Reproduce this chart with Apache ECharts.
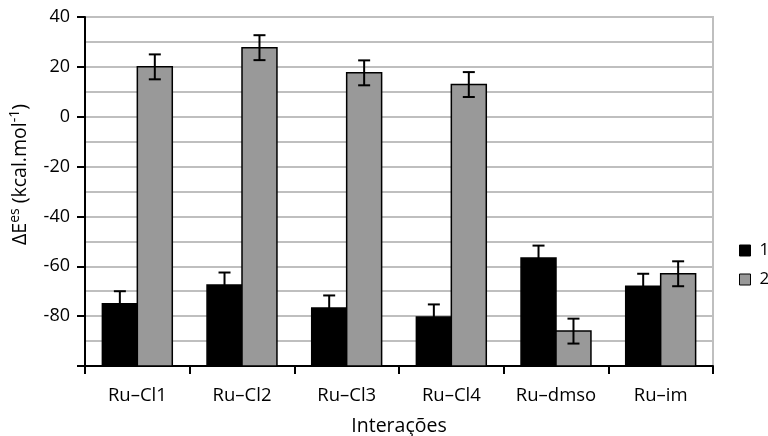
<!DOCTYPE html>
<html>
<head>
<meta charset="utf-8">
<script src="https://cdn.jsdelivr.net/npm/echarts@6/dist/echarts.min.js"></script>
<style>
  html, body { margin: 0; padding: 0; background: #fff; }
  #chart { width: 768px; height: 436px; }
</style>
</head>
<body>
<div id="chart"></div>
<script>
// Interaction categories and electrostatic energy values (kcal/mol)
const categories = ['Ru\u2013Cl1', 'Ru\u2013Cl2', 'Ru\u2013Cl3', 'Ru\u2013Cl4', 'Ru\u2013dmso', 'Ru\u2013im'];
const seriesNames = ['1', '2'];
const values1 = [-75, -67.5, -76.7, -80.3, -56.7, -68];
const values2 = [20, 27.7, 17.6, 12.9, -86, -63];
const errors1 = [5, 5, 5, 5, 5, 5];
const errors2 = [5, 5, 5, 5, 5, 5];
const yMin = -100;
const yMax = 40;

const FONT = '"Open Sans", "Noto Sans", sans-serif';
const colors = ['#000000', '#999999'];

// Bars rise from the bottom of the value axis, with symmetric error bars
function makeRender(side, fill) {
  return function (params, api) {
    const idx = api.value(0);
    const v = api.value(1);
    const err = api.value(2);
    const band = api.size([1, 0])[0];
    const w = band * 0.334;
    const top = api.coord([idx, v]);
    const base = api.coord([idx, yMin]);
    const x0 = side < 0 ? top[0] - w : top[0];
    const xc = x0 + w / 2;
    const yHi = api.coord([idx, v + err])[1];
    const yLo = api.coord([idx, v - err])[1];
    const cap = 6;
    const lineStyle = { stroke: '#000', lineWidth: 2 };
    return {
      type: 'group',
      children: [
        {
          type: 'rect',
          shape: { x: x0, y: top[1], width: w, height: base[1] - top[1] },
          style: { fill: fill, stroke: '#000', lineWidth: 1.5 }
        },
        { type: 'line', shape: { x1: xc, y1: yHi, x2: xc, y2: yLo }, style: lineStyle },
        { type: 'line', shape: { x1: xc - cap, y1: yHi, x2: xc + cap, y2: yHi }, style: lineStyle },
        { type: 'line', shape: { x1: xc - cap, y1: yLo, x2: xc + cap, y2: yLo }, style: lineStyle }
      ]
    };
  };
}

const data1 = categories.map((c, i) => [i, values1[i], errors1[i]]);
const data2 = categories.map((c, i) => [i, values2[i], errors2[i]]);

const chart = echarts.init(document.getElementById('chart'), null, { renderer: 'canvas' });
chart.setOption({
  animation: false,
  backgroundColor: '#fff',
  textStyle: { fontFamily: FONT },
  grid: {
    left: 85, right: 55, top: 17, bottom: 70,
    show: true, borderColor: '#bfbfbf', borderWidth: 2,
    containLabel: false, outerBoundsMode: 'none'
  },
  legend: {
    orient: 'vertical',
    left: 739,
    top: 242,
    padding: 0,
    itemWidth: 11,
    itemHeight: 11,
    itemGap: 12,
    textStyle: { fontFamily: FONT, fontSize: 17, lineHeight: 17, color: '#000', padding: [0, 0, 0, 4] },
    data: [
      { name: seriesNames[0], icon: 'rect', itemStyle: { color: colors[0], borderColor: '#000', borderWidth: 1 } },
      { name: seriesNames[1], icon: 'rect', itemStyle: { color: colors[1], borderColor: '#000', borderWidth: 1 } }
    ]
  },
  xAxis: {
    type: 'category',
    data: categories,
    boundaryGap: true,
    name: 'Interações',
    nameLocation: 'middle',
    nameGap: 50,
    nameTextStyle: { fontFamily: FONT, fontSize: 19.5, color: '#000' },
    axisLine: { onZero: false, lineStyle: { color: '#000', width: 2 } },
    axisTick: { show: true, length: 8, inside: false, lineStyle: { color: '#000', width: 2 } },
    axisLabel: { fontFamily: FONT, fontSize: 18.5, color: '#000', margin: 20 },
    splitLine: { show: false }
  },
  yAxis: {
    type: 'value',
    min: yMin,
    max: yMax,
    interval: 20,
    name: '{a|\u0394E}{s|es}{a| (kcal.mol}{s|-1}{a|)}',
    nameLocation: 'middle',
    nameGap: 53,
    nameRotate: 90,
    nameTextStyle: {
      fontFamily: FONT, fontSize: 19.5, color: '#000',
      padding: [0, 0, 0, 34],
      rich: {
        a: { fontFamily: FONT, fontSize: 19.5, color: '#000' },
        s: { fontFamily: FONT, fontSize: 14, color: '#000', verticalAlign: 'top', padding: [0, 0, 10, 0] }
      }
    },
    axisLine: { show: true, lineStyle: { color: '#000', width: 2 } },
    axisTick: { show: true, length: 8, lineStyle: { color: '#000', width: 2 } },
    axisLabel: {
      fontFamily: FONT, fontSize: 18, color: '#000', margin: 15,
      formatter: v => (v === yMin ? '' : String(v))
    },
    splitLine: { show: true, lineStyle: { color: '#bfbfbf', width: 2 } },
    minorTick: { show: false, splitNumber: 2 },
    minorSplitLine: { show: true, lineStyle: { color: '#bfbfbf', width: 2 } }
  },
  series: [
    {
      name: seriesNames[0],
      type: 'custom',
      itemStyle: { color: colors[0] },
      renderItem: makeRender(-1, colors[0]),
      encode: { x: 0, y: 1 },
      data: data1,
      z: 2
    },
    {
      name: seriesNames[1],
      type: 'custom',
      itemStyle: { color: colors[1] },
      renderItem: makeRender(1, colors[1]),
      encode: { x: 0, y: 1 },
      data: data2,
      z: 3
    }
  ]
});
</script>
</body>
</html>
